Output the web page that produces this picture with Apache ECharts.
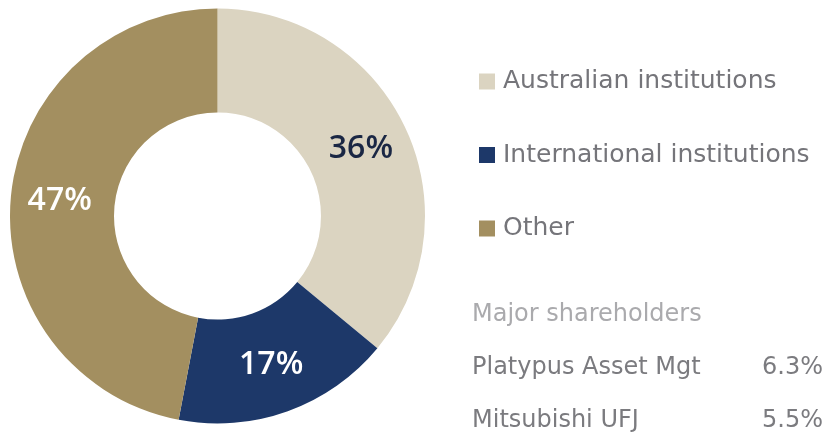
<!DOCTYPE html>
<html>
<head>
<meta charset="utf-8">
<script src="https://cdn.jsdelivr.net/npm/echarts@6/dist/echarts.min.js"></script>
<style>
html,body{margin:0;padding:0;background:#fff;}
#chart{width:828px;height:434px;}
</style>
</head>
<body>
<div id="chart"></div>
<script>
const categories = ['Australian institutions', 'International institutions', 'Other'];
const values = [36, 17, 47];
const colors = ['#dbd4c1', '#1d3869', '#a38f60'];
const labelColors = ['#1a2744', '#ffffff', '#ffffff'];
const shareholderTitle = 'Major shareholders';
const shareholderNames = ['Platypus Asset Mgt', 'Mitsubishi UFJ'];
const shareholderPcts = ['6.3%', '5.5%'];

const chart = echarts.init(document.getElementById('chart'), null, {renderer: 'canvas'});
const FONT = '"DejaVu Sans"';

const graphics = [{
  type: 'text', left: 472, top: 313 - 10,
  style: {text: shareholderTitle, fill: '#aaaaad', font: '400 24px ' + FONT}
}];
shareholderNames.forEach((n, i) => {
  const y = 366 + i * 52.5 - 10;
  graphics.push({type: 'text', left: 472, top: y, style: {text: n, fill: '#7b7b7f', font: '400 24px ' + FONT}});
  graphics.push({type: 'text', right: 5, top: y, style: {text: shareholderPcts[i], fill: '#7b7b7f', font: '400 24px ' + FONT}});
});

chart.setOption({
  animation: false,
  color: colors,
  legend: {
    orient: 'vertical',
    left: 479,
    top: 69,
    padding: 0,
    icon: 'rect',
    itemWidth: 16,
    itemHeight: 16,
    itemGap: 48.5,
    selectedMode: false,
    data: categories,
    textStyle: {color: '#75757a', fontSize: 25, fontFamily: FONT, padding: [0, 0, 0, 3]}
  },
  graphic: graphics,
  series: [{
    type: 'pie',
    center: [217.5, 216],
    radius: [103.5, 207.5],
    startAngle: 90,
    clockwise: true,
    avoidLabelOverlap: false,
    label: {
      show: true,
      position: 'inside',
      formatter: '{c}%',
      fontSize: 32,
      fontWeight: 600,
      fontFamily: '"Open Sans"'
    },
    labelLine: {show: false},
    emphasis: {disabled: true},
    data: categories.map((c, i) => ({
      name: c, value: values[i],
      itemStyle: {color: colors[i]},
      label: {color: labelColors[i]}
    }))
  }]
});
</script>
</body>
</html>
